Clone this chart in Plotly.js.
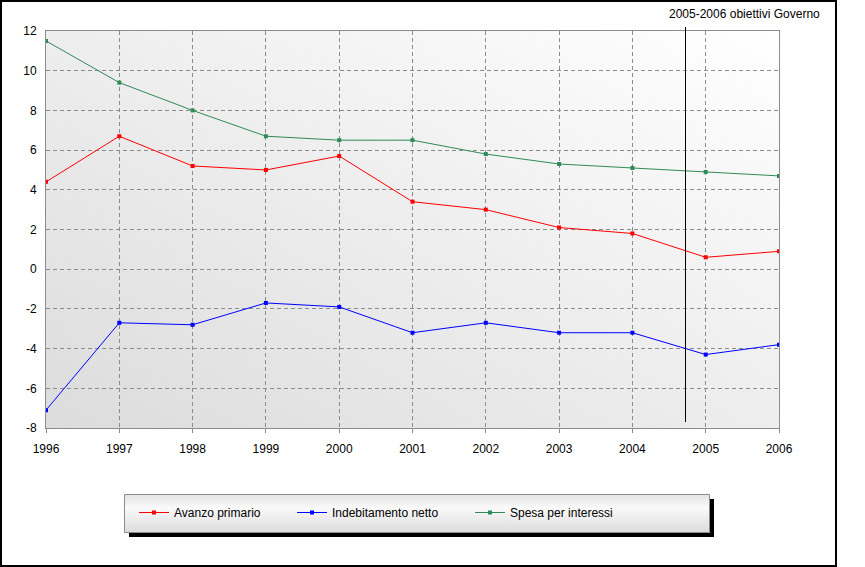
<!DOCTYPE html>
<html><head><meta charset="utf-8">
<script src="https://cdn.plot.ly/plotly-3.0.1.min.js"></script>
<style>body{margin:0;background:#fff}#chart{width:865px;height:567px}</style>
</head><body><div id="chart"></div>
<script>
const years = [1996,1997,1998,1999,2000,2001,2002,2003,2004,2005,2006];
const avanzoPrimario = [4.4,6.7,5.2,5.0,5.7,3.4,3.0,2.1,1.8,0.6,0.9];
const indebitamentoNetto = [-7.1,-2.7,-2.8,-1.7,-1.9,-3.2,-2.7,-3.2,-3.2,-4.3,-3.8];
const spesaInteressi = [11.5,9.4,8.0,6.7,6.5,6.5,5.8,5.3,5.1,4.9,4.7];
const yTicks = [-8,-6,-4,-2,0,2,4,6,8,10,12];
const yTickLabels = ['-8','-6','-4','-2','0','2','4','6','8','10','12'];
const seriesNames = ['Avanzo primario','Indebitamento netto','Spesa per interessi'];
const seriesColors = ['#ff0000','#0000ff','#2e8b57'];
const annotationText = '2005-2006 obiettivi Governo';

const W=865,H=567,L=46,R=86,T=31,B=139;
const pw=W-L-R, ph=H-T-B;
const px = v => (v-L)/pw;
const py = v => (H-B-v)/ph;

const grad = 'data:image/svg+xml;utf8,' + encodeURIComponent(
 '<svg xmlns="http://www.w3.org/2000/svg" width="100" height="100" preserveAspectRatio="none"><defs><linearGradient id="g" x1="0" y1="1" x2="1" y2="0"><stop offset="0" stop-color="#dcdcdc"/><stop offset="1" stop-color="#ffffff"/></linearGradient></defs><rect width="100" height="100" fill="url(#g)"/></svg>');
const lgrad = 'data:image/svg+xml;utf8,' + encodeURIComponent(
 '<svg xmlns="http://www.w3.org/2000/svg" width="100" height="100" preserveAspectRatio="none"><defs><linearGradient id="g" x1="0" y1="0" x2="0" y2="1"><stop offset="0" stop-color="#e4e4e4"/><stop offset="0.35" stop-color="#fafafa"/><stop offset="1" stop-color="#dcdcdc"/></linearGradient></defs><rect width="100" height="100" fill="url(#g)"/></svg>');

const legendNames = ['legend','legend2','legend3'];
const legendTextX = [174,332,510];

const data = [avanzoPrimario, indebitamentoNetto, spesaInteressi].map((ys,i)=>({
  x: years, y: ys, type:'scatter', mode:'lines+markers', name: seriesNames[i], legend: legendNames[i],
  line:{color:seriesColors[i], width:1}, marker:{color:seriesColors[i], size:4, symbol:'square'}
}));

const layout = {
  width:W, height:H, margin:{l:L,r:R,t:T,b:B},
  paper_bgcolor:'#ffffff', plot_bgcolor:'rgba(0,0,0,0)',
  font:{family:'Liberation Sans, Arial, sans-serif', size:12, color:'#000'},
  showlegend:true,
  xaxis:{range:[1996,2006], tickvals:years, ticktext:years.map(String), showgrid:true,
    gridcolor:'#8c8c8c', griddash:'4px,3px', gridwidth:1, zeroline:false,
    showline:true, linecolor:'#8c8c8c', linewidth:1, mirror:true,
    ticks:'outside', ticklen:4, tickcolor:'#8c8c8c', ticklabelstandoff:6},
  yaxis:{range:[-8,12], tickvals:yTicks, ticktext:yTickLabels, showgrid:true,
    gridcolor:'#8c8c8c', griddash:'4px,3px', gridwidth:1, zeroline:false,
    showline:true, linecolor:'#8c8c8c', linewidth:1, mirror:true,
    ticks:'', ticklabelstandoff:6},
  images:[
    {source:grad, xref:'paper', yref:'paper', x:0, y:1, sizex:1, sizey:1, sizing:'stretch', layer:'below', xanchor:'left', yanchor:'top'},
    {source:lgrad, xref:'paper', yref:'paper', x:px(125), y:py(495), sizex:px(709)-px(125), sizey:py(495)-py(532), sizing:'stretch', layer:'below', xanchor:'left', yanchor:'top'}
  ],
  shapes:[
    {type:'rect', xref:'paper', yref:'paper', x0:px(710), x1:px(714), y0:py(499), y1:py(537), fillcolor:'#000', line:{width:0}},
    {type:'rect', xref:'paper', yref:'paper', x0:px(129), x1:px(714), y0:py(533), y1:py(537), fillcolor:'#000', line:{width:0}},
    {type:'rect', xref:'paper', yref:'paper', x0:px(124.5), x1:px(709.5), y0:py(494.5), y1:py(532.5), fillcolor:'rgba(0,0,0,0)', line:{color:'#8c8c8c', width:1}},
    {type:'rect', xref:'paper', yref:'paper', x0:px(1), x1:px(836), y0:py(1), y1:py(566), line:{color:'#000', width:2}},
    {type:'line', xref:'paper', yref:'paper', x0:px(685.5), x1:px(685.5), y0:py(27), y1:py(422), line:{color:'#000', width:1}}
  ],
  annotations:[
    {text:annotationText, xref:'paper', yref:'paper', x:px(822), y:py(14), xanchor:'right', yanchor:'middle', showarrow:false, font:{size:12}}
  ]
};
legendNames.forEach((ln,i)=>{
  layout[ln] = {orientation:'h', x:px(legendTextX[i]-40), y:py(498), xanchor:'left', yanchor:'top',
    bgcolor:'rgba(0,0,0,0)', borderwidth:0, itemwidth:30, font:{size:12}};
});
Plotly.newPlot('chart', data, layout, {displayModeBar:false, staticPlot:true});
</script></body></html>
